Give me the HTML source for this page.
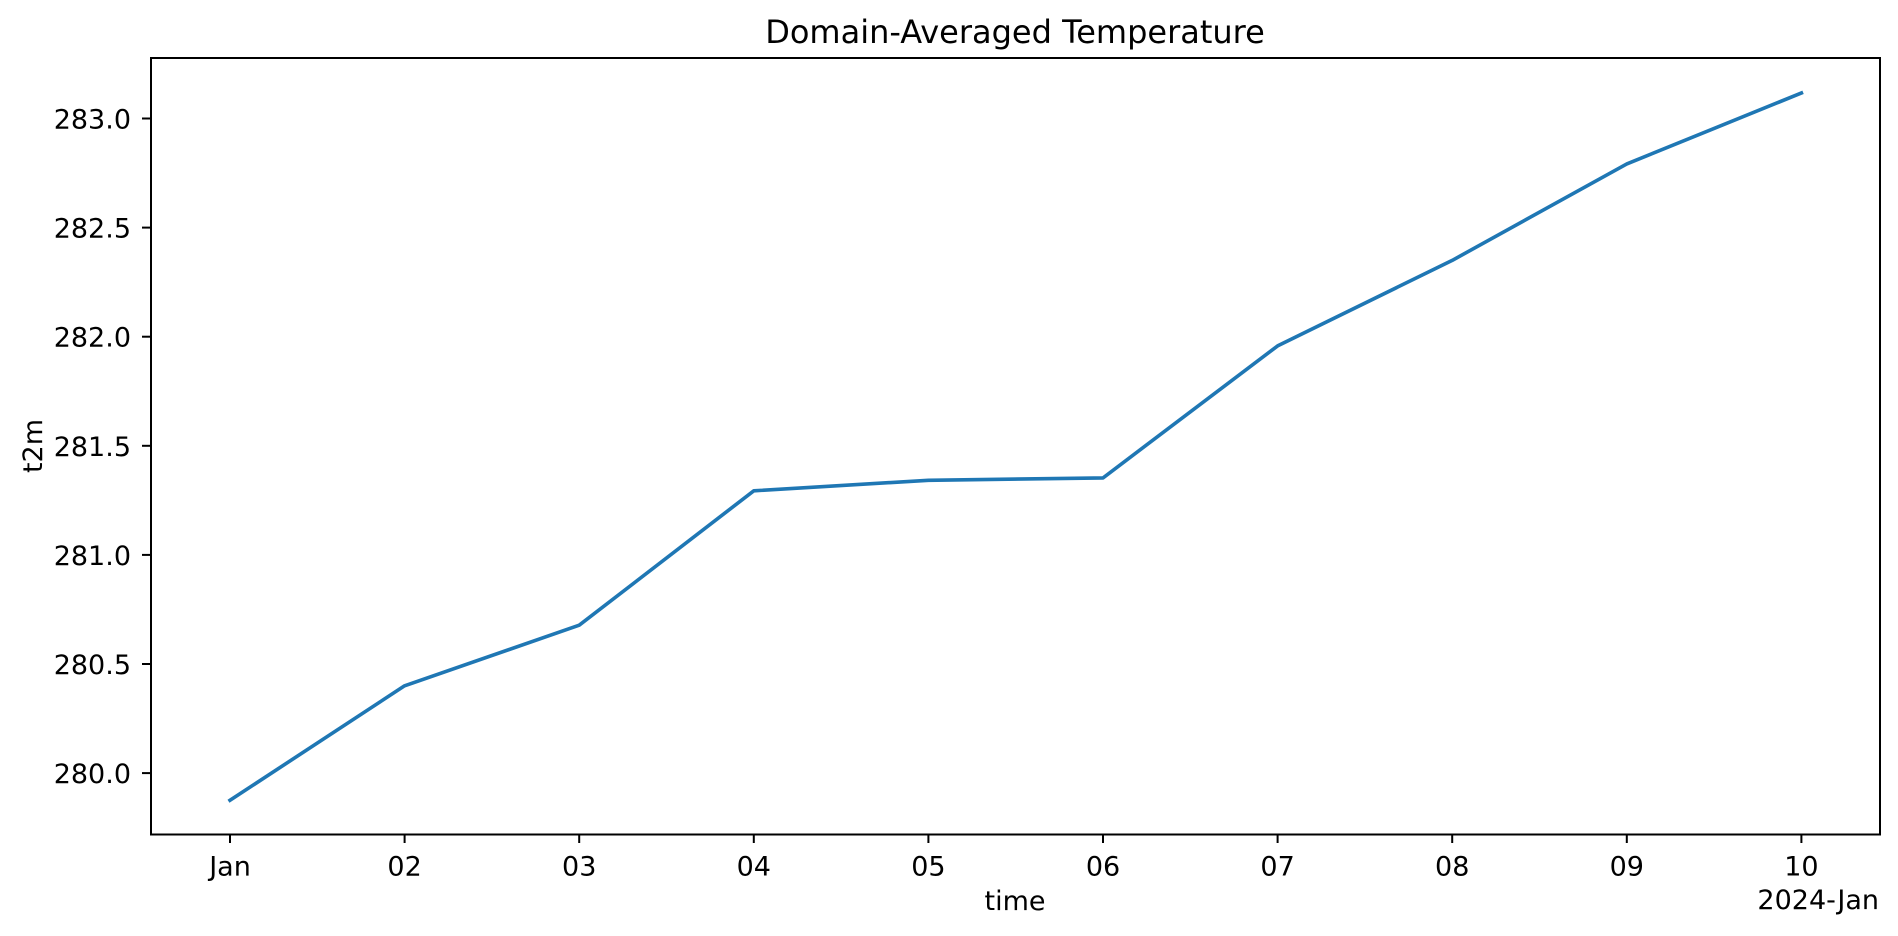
<!DOCTYPE html>
<html><head><meta charset="utf-8"><style>
html,body{margin:0;padding:0;background:#fff;}
svg{display:block;font-family:"DejaVu Sans","Liberation Sans",sans-serif;}
</style></head><body>
<svg width="1898" height="936" viewBox="0 0 1898 936" xmlns="http://www.w3.org/2000/svg">
<rect width="1898" height="936" fill="#fff"/>
<text x="1015" y="43" font-size="32" text-anchor="middle" fill="#000">Domain-Averaged Temperature</text>
<polyline fill="none" stroke="#1f77b4" stroke-width="3.6" stroke-linejoin="round" stroke-linecap="square"
points="230,800.3 404.6,685.8 579.2,625.2 753.8,490.8 928.4,480.3 1103,477.9 1277.6,345.9 1452.2,260.4 1626.8,163.9 1801.4,93"/>
<rect x="151" y="58" width="1729" height="776.5" fill="none" stroke="#000" stroke-width="2"/>
<g stroke="#000" stroke-width="2">
<line x1="230" y1="834" x2="230" y2="843"/><line x1="404.6" y1="834" x2="404.6" y2="843"/>
<line x1="579.2" y1="834" x2="579.2" y2="843"/><line x1="753.8" y1="834" x2="753.8" y2="843"/>
<line x1="928.4" y1="834" x2="928.4" y2="843"/><line x1="1103" y1="834" x2="1103" y2="843"/>
<line x1="1277.6" y1="834" x2="1277.6" y2="843"/><line x1="1452.2" y1="834" x2="1452.2" y2="843"/>
<line x1="1626.8" y1="834" x2="1626.8" y2="843"/><line x1="1801.4" y1="834" x2="1801.4" y2="843"/>
<line x1="142" y1="118.5" x2="151" y2="118.5"/><line x1="142" y1="227.6" x2="151" y2="227.6"/>
<line x1="142" y1="336.7" x2="151" y2="336.7"/><line x1="142" y1="445.8" x2="151" y2="445.8"/>
<line x1="142" y1="554.9" x2="151" y2="554.9"/><line x1="142" y1="664" x2="151" y2="664"/>
<line x1="142" y1="773.1" x2="151" y2="773.1"/>
</g>
<g font-size="27" text-anchor="middle" fill="#000">
<text x="230" y="875.5">Jan</text><text x="404.6" y="875.5">02</text><text x="579.2" y="875.5">03</text>
<text x="753.8" y="875.5">04</text><text x="928.4" y="875.5">05</text><text x="1103" y="875.5">06</text>
<text x="1277.6" y="875.5">07</text><text x="1452.2" y="875.5">08</text><text x="1626.8" y="875.5">09</text>
<text x="1801.4" y="875.5">10</text>
</g>
<text x="1879" y="909" font-size="27" text-anchor="end">2024-Jan</text>
<text x="1015" y="910" font-size="27" text-anchor="middle">time</text>
<g font-size="27" text-anchor="end">
<text x="131" y="128.5">283.0</text><text x="131" y="237.6">282.5</text><text x="131" y="346.7">282.0</text>
<text x="131" y="455.8">281.5</text><text x="131" y="564.9">281.0</text><text x="131" y="674">280.5</text>
<text x="131" y="783.1">280.0</text>
</g>
<text transform="translate(42,446) rotate(-90)" font-size="27" text-anchor="middle">t2m</text>
</svg>
</body></html>
